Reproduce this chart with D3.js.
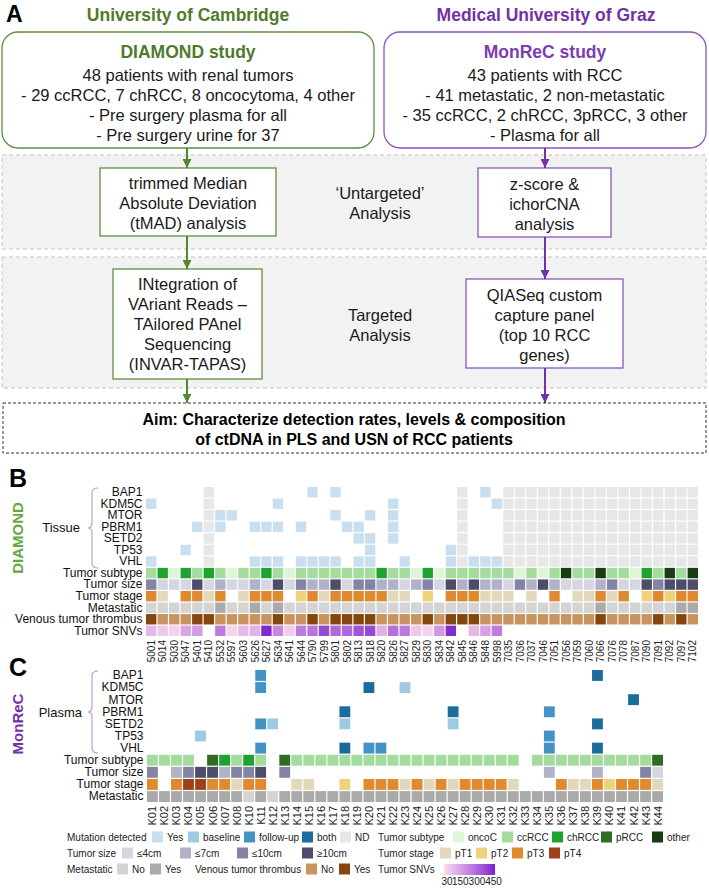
<!DOCTYPE html>
<html>
<head>
<meta charset="utf-8">
<script src="https://cdn.jsdelivr.net/npm/d3@7"></script>
<style>
  body { margin: 0; background: #fff; }
  svg text { font-family: 'Liberation Sans', Arial, sans-serif; }
</style>
</head>
<body>
<div id="chart"></div>
<script>
// ---------- data ----------
var diamondIds = ["5001","5014","5030","5047","5401","5410","5532","5597","5603","5626","5627","5634","5641","5644","5790","5799","5801","5802","5813","5818","5820","5826","5827","5829","5830","5834","5842","5845","5846","5848","5998","7035","7036","7037","7046","7051","7056","7059","7060","7066","7076","7078","7087","7090","7091","7092","7097","7102"];

var genes = ["BAP1","KDM5C","MTOR","PBRM1","SETD2","TP53","VHL"];

// tissue mutations (DIAMOND): sample ids with a mutation detected
var tissueBAP1 = ["5790","5801","5848"];
var tissueKDM5C = ["5001","5634","5826","5998"];
var tissueMTOR = ["5532","5597","5801","5818","5826"];
var tissuePBRM1 = ["5401","5532","5626","5627","5634","5644","5802","5813","5826"];
var tissueSETD2 = ["5813","5818","5826"];
var tissueTP53 = ["5047","5818","5842"];
var tissueVHL = ["5001","5626","5627","5634","5644","5790","5799","5801","5813","5818","5827","5842","5846","5848","5998"];
var tissueND = ["5410","5845","7035","7036","7037","7046","7051","7056","7059","7060","7066","7076","7078","7087","7090","7091","7092","7097","7102"];

var diamondSubtype = ["cc","ch","on","ch","cc","ch","cc","on","cc","cc","ch","cc","on","cc","cc","cc","cc","cc","cc","cc","ch","cc","cc","on","ch","on","cc","cc","cc","cc","cc","cc","on","cc","on","cc","ot","cc","cc","ot","cc","cc","on","ch","cc","ot","cc","ot"];
var diamondSize = [3,1,1,1,4,1,2,1,1,2, 1,4,1,3,2,2,4,1,3,3, 2,2,1,2,3,1,4,2,4,2, 2,1,3,2,4,2,1,1,1,2, 3,1,1,4,3,4,4,4];
var diamondStage = [3,1,0,3,3,1,3,0,1,3, 3,3,0,2,3,1,3,3,3,3, 3,1,1,0,2,0,3,3,3,1, 1,1,0,1,0,3,0,1,1,3, 1,3,0,2,3,2,3,3];
var diamondMet = ["N","N","N","N","N","N","Y","N","N","Y", "N","Y","N","N","N","N","N","N","N","N", "N","N","N","N","N","N","N","N","N","N", "N","N","N","N","N","N","N","N","N","Y", "N","N","N","N","N","N","Y","Y"];
var diamondVenous = ["Y","N","N","N","Y","Y","N","N","N","N", "N","Y","N","N","Y","N","Y","Y","Y","Y", "N","N","N","N","Y","N","Y","Y","Y","N", "N","N","N","N","N","N","N","N","N","Y", "N","N","N","N","Y","N","Y","N"];
var diamondSNV = [100,60,30,150,170,null,250,30,90,110, 450,220,50,250,270,380,300,300,350,380, 120,280,260,60,30,180,440,null,100,160, 250,null,null,null,null,null,null,null,null,null, null,null,null,null,null,null,null,null];

var monrecIds = ["K01","K02","K03","K04","K05","K06","K07","K08","K10","K11","K12","K13","K14","K15","K16","K17","K18","K19","K20","K21","K22","K23","K24","K25","K26","K27","K28","K29","K30","K31","K32","K33","K34","K35","K36","K37","K38","K39","K40","K41","K42","K43","K44"];

// plasma mutations (MonReC): b = baseline, f = follow-up, B = both
var plasmaBAP1 = [["K11","f"],["K39","B"]];
var plasmaKDM5C = [["K11","f"],["K20","B"],["K23","b"]];
var plasmaMTOR = [["K42","B"]];
var plasmaPBRM1 = [["K18","B"],["K27","B"],["K35","f"]];
var plasmaSETD2 = [["K11","f"],["K12","b"],["K18","b"],["K27","b"],["K39","B"]];
var plasmaTP53 = [["K05","b"],["K35","f"]];
var plasmaVHL = [["K11","f"],["K18","B"],["K20","f"],["K21","f"],["K35","f"],["K39","B"]];

var monrecSubtype = ["cc","cc","cc","cc","","pR","ch","cc","ch","cc","","pR","cc","cc","cc","cc","cc","cc","cc","cc","cc","cc","cc","cc","cc","cc","cc","cc","cc","cc","cc","","cc","cc","cc","cc","cc","cc","cc","cc","cc","cc","pR"];
var monrecSize = [3,0,2,3,4,4,2,3,3,4, 0,3,0,0,0,0,0,0,0,0, 0,0,0,0,0,0,0,0,0,0, 0,0,0,2,0,0,0,2,0,0, 0,3,1];
var monrecStage = [3,0,3,4,4,3,3,1,3,3, 0,0,1,1,0,0,2,0,3,3, 3,1,3,1,3,1,3,3,3,3, 1,0,0,0,3,1,1,3,2,3, 3,3,1];
var monrecMet = ["Y","Y","Y","Y","Y","Y","Y","Y","N","Y","N","Y","Y","Y","Y","Y","Y","Y","Y","Y","Y","Y","Y","Y","Y","Y","Y","Y","Y","Y","Y","Y","Y","Y","Y","Y","Y","Y","Y","Y","Y","Y","Y"];

var snvTicks = [30, 150, 300, 450];

// ---------- colours ----------
var mutColor = {Y: "#c9dff0", b: "#9ecae2", f: "#4393c7", B: "#1b6b9c", ND: "#e7e7e7"};
var subtypeColor = d3.scaleOrdinal().domain(["on","cc","ch","pR","ot"])
  .range(["#ddf6d6","#a3dc9c","#1fa32f","#2f6e22","#1a3c15"]);
var sizeColor = d3.scaleOrdinal().domain([1,2,3,4]).range(["#d6d6e2","#b1b1c9","#8383a6","#4d4d6a"]);
var stageColor = d3.scaleOrdinal().domain([1,2,3,4]).range(["#e2d9bd","#f0d27c","#e08a30","#a0401b"]);
var metColor = d3.scaleOrdinal().domain(["N","Y"]).range(["#d4d4d4","#aaaaaa"]);
var venColor = d3.scaleOrdinal().domain(["N","Y"]).range(["#c99460","#85460d"]);
var snvColor = d3.scaleSequential(d3.interpolateLab("#fcdcee", "#7a1fce")).domain([7, 468]);

var green = "#55852f", purple = "#7232a6";

var svg = d3.select("#chart").append("svg")
  .attr("width", 709)
  .attr("height", 889);

svg.append("rect").attr("width", 709).attr("height", 889).attr("fill", "#fff");

// arrow markers
var defs = svg.append("defs");
[["arrG", green], ["arrP", purple]].forEach(function(m) {
  defs.append("marker")
    .attr("id", m[0])
    .attr("markerUnits", "userSpaceOnUse")
    .attr("viewBox", "0 0 10 10")
    .attr("refX", 10).attr("refY", 5)
    .attr("markerWidth", 9).attr("markerHeight", 9)
    .attr("orient", "auto")
    .append("path").attr("d", "M0,0 L10,5 L0,10 z").attr("fill", m[1]);
});

// ---------- panel A ----------
function addText(x, y, txt, size, color, weight, anchor) {
  return svg.append("text")
    .attr("x", x).attr("y", y)
    .attr("dy", "0.35em")
    .attr("text-anchor", anchor || "middle")
    .attr("font-size", size)
    .attr("font-weight", weight || "normal")
    .attr("fill", color)
    .text(txt);
}
function addLines(cx, y0, arr, size, color) {
  arr.forEach(function(t, i) { addText(cx, y0 + i * 20, t, size, color); });
}
function addBox(x, y, w, h, color, rx) {
  svg.append("rect").attr("x", x).attr("y", y).attr("width", w).attr("height", h)
    .attr("rx", rx || 0).attr("fill", "#fff").attr("stroke", color).attr("stroke-width", 1.3);
}
function arrow(x, y0, y1, id, color) {
  svg.append("line").attr("x1", x).attr("x2", x).attr("y1", y0).attr("y2", y1)
    .attr("stroke", color).attr("stroke-width", 2).attr("marker-end", "url(#" + id + ")");
}

addText(6, 14, "A", 23, "#000", "bold", "start");
addText(188, 15, "University of Cambridge", 17.5, "#4f7a2b", "bold");
addText(546, 15, "Medical University of Graz", 17.5, purple, "bold");

// gray analysis bands
svg.append("rect").attr("x", 2).attr("y", 155).attr("width", 704).attr("height", 94)
  .attr("fill", "#f2f2f2").attr("stroke", "#c4c4c4").attr("stroke-dasharray", "4,3");
svg.append("rect").attr("x", 2).attr("y", 257).attr("width", 704).attr("height", 131)
  .attr("fill", "#f2f2f2").attr("stroke", "#c4c4c4").attr("stroke-dasharray", "4,3");

addBox(2, 32, 372, 116, "#5f8f3e", 16);
addBox(384, 32, 322, 116, "#8a56bf", 16);
addText(188, 52, "DIAMOND study", 17.5, "#4f7a2b", "bold");
addLines(188, 75, ["48 patients with renal tumors", "- 29 ccRCC, 7 chRCC, 8 oncocytoma, 4 other",
  "- Pre surgery plasma for all", "- Pre surgery urine for 37"], 16.5, "#1a1a1a");
addText(545, 52, "MonReC study", 17.5, "#7a3db3", "bold");
addLines(545, 75, ["43 patients with RCC", "- 41 metastatic, 2 non-metastatic",
  "- 35 ccRCC, 2 chRCC, 3pRCC, 3 other", "- Plasma for all"], 16.5, "#1a1a1a");

addBox(100, 168, 176, 68, "#5f8f3e");
addLines(188, 183, ["trimmed Median", "Absolute Deviation", "(tMAD) analysis"], 16.5, "#1a1a1a");
addBox(478, 168, 133, 69, "#8a56bf");
addLines(544.5, 184, ["z-score &", "ichorCNA", "analysis"], 16.5, "#1a1a1a");
addLines(380, 193, ["\u2018Untargeted\u2019", "Analysis"], 16.5, "#1a1a1a");

addBox(113, 269, 149, 110, "#5f8f3e");
addLines(187.5, 284, ["INtegration of", "VAriant Reads \u2013", "TAilored PAnel", "Sequencing", "(INVAR-TAPAS)"], 16.5, "#1a1a1a");
addBox(466, 279, 157, 89, "#8a56bf");
addLines(544.5, 295, ["QIASeq custom", "capture panel", "(top 10 RCC", "genes)"], 16.5, "#1a1a1a");
addLines(380, 315, ["Targeted", "Analysis"], 16.5, "#1a1a1a");

arrow(187, 148, 168, "arrG", "#4e8a2c");
arrow(187, 236, 269, "arrG", "#4e8a2c");
arrow(187, 379, 403, "arrG", "#4e8a2c");
arrow(545, 148, 168, "arrP", purple);
arrow(545, 237, 279, "arrP", purple);
arrow(545, 368, 403, "arrP", purple);

svg.append("rect").attr("x", 3).attr("y", 403).attr("width", 703).attr("height", 50)
  .attr("fill", "#fff").attr("stroke", "#333").attr("stroke-dasharray", "3,2");
addText(354, 419, "Aim: Characterize detection rates, levels & composition", 16, "#000", "bold");
addText(354, 439, "of ctDNA in PLS and USN of RCC patients", 16, "#000", "bold");

// ---------- heatmaps ----------
function brace(x, y0, y1, color) {
  var ym = (y0 + y1) / 2, xm = x - 6, xt = x - 10, r = 5;
  var d = "M" + x + "," + y0 +
    " Q" + xm + "," + y0 + " " + xm + "," + (y0 + r) +
    " L" + xm + "," + (ym - r) +
    " Q" + xm + "," + ym + " " + xt + "," + ym +
    " Q" + xm + "," + ym + " " + xm + "," + (ym + r) +
    " L" + xm + "," + (y1 - r) +
    " Q" + xm + "," + y1 + " " + x + "," + y1;
  svg.append("path").attr("d", d).attr("fill", "none").attr("stroke", color).attr("stroke-width", 1.1);
}

function heatmap(ids, rows, cells, x0, x1, y0, y1, labelSize) {
  var x = d3.scaleBand().domain(ids).range([x0, x1]).paddingInner(0.1);
  var y = d3.scaleBand().domain(rows).range([y0, y1]).paddingInner(0.1);
  var g = svg.append("g");
  g.selectAll("rect.cell")
    .data(cells)
    .enter()
    .append("rect")
    .attr("class", "cell")
    .attr("x", d => x(d.id))
    .attr("y", d => y(d.row))
    .attr("width", x.bandwidth())
    .attr("height", y.bandwidth())
    .attr("fill", d => d.color);

  var left = g.append("g")
    .attr("transform", `translate(${x0 - 0.5}, 0)`)
    .call(d3.axisLeft(y).tickSize(0).tickPadding(3));
  left.select(".domain").remove();
  left.selectAll("text").attr("font-size", 12).attr("fill", "#111")
    .style("font-family", "'Liberation Sans', Arial, sans-serif");

  var bottom = g.append("g")
    .attr("transform", `translate(0, ${y1})`)
    .call(d3.axisBottom(x).tickSize(0));
  bottom.select(".domain").remove();
  bottom.selectAll("text")
    .attr("transform", "rotate(-90)")
    .attr("x", -4).attr("y", 0).attr("dy", "0.36em")
    .style("text-anchor", "end")
    .attr("font-size", labelSize).attr("fill", "#222")
    .style("font-family", "'Liberation Sans', Arial, sans-serif");
  return {x: x, y: y};
}

// panel B cells
var rowsB = genes.concat(["Tumor subtype","Tumor size","Tumor stage","Metastatic","Venous tumor thrombus","Tumor SNVs"]);
var tissueLists = [tissueBAP1, tissueKDM5C, tissueMTOR, tissuePBRM1, tissueSETD2, tissueTP53, tissueVHL];
var cellsB = [];
genes.forEach(function(gname, gi) {
  diamondIds.forEach(function(id) {
    if (tissueND.indexOf(id) >= 0) cellsB.push({id: id, row: gname, color: mutColor.ND});
    else if (tissueLists[gi].indexOf(id) >= 0) cellsB.push({id: id, row: gname, color: mutColor.Y});
  });
});
diamondIds.forEach(function(id, i) {
  if (diamondSubtype[i]) cellsB.push({id: id, row: "Tumor subtype", color: subtypeColor(diamondSubtype[i])});
  if (diamondSize[i]) cellsB.push({id: id, row: "Tumor size", color: sizeColor(diamondSize[i])});
  if (diamondStage[i]) cellsB.push({id: id, row: "Tumor stage", color: stageColor(diamondStage[i])});
  cellsB.push({id: id, row: "Metastatic", color: metColor(diamondMet[i])});
  cellsB.push({id: id, row: "Venous tumor thrombus", color: venColor(diamondVenous[i])});
  if (diamondSNV[i] != null) cellsB.push({id: id, row: "Tumor SNVs", color: snvColor(diamondSNV[i])});
});
heatmap(diamondIds, rowsB, cellsB, 146, 698, 487, 636, 10);

// panel C cells
var rowsC = genes.concat(["Tumor subtype","Tumor size","Tumor stage","Metastatic"]);
var plasmaLists = [plasmaBAP1, plasmaKDM5C, plasmaMTOR, plasmaPBRM1, plasmaSETD2, plasmaTP53, plasmaVHL];
var cellsC = [];
genes.forEach(function(gname, gi) {
  plasmaLists[gi].forEach(function(p) {
    cellsC.push({id: p[0], row: gname, color: mutColor[p[1]]});
  });
});
monrecIds.forEach(function(id, i) {
  if (monrecSubtype[i]) cellsC.push({id: id, row: "Tumor subtype", color: subtypeColor(monrecSubtype[i])});
  if (monrecSize[i]) cellsC.push({id: id, row: "Tumor size", color: sizeColor(monrecSize[i])});
  if (monrecStage[i]) cellsC.push({id: id, row: "Tumor stage", color: stageColor(monrecStage[i])});
  cellsC.push({id: id, row: "Metastatic", color: metColor(monrecMet[i])});
});
heatmap(monrecIds, rowsC, cellsC, 147, 663, 670, 802, 11);

// side labels and braces
addText(9, 478, "B", 25, "#000", "bold", "start");
addText(9, 667, "C", 25, "#000", "bold", "start");
svg.append("text").attr("transform", "translate(18,538) rotate(-90)").attr("dy", "0.35em")
  .attr("text-anchor", "middle").attr("font-size", 15).attr("font-weight", "bold")
  .attr("fill", "#67a83f").text("DIAMOND");
svg.append("text").attr("transform", "translate(18,724) rotate(-90)").attr("dy", "0.35em")
  .attr("text-anchor", "middle").attr("font-size", 15).attr("font-weight", "bold")
  .attr("fill", purple).text("MonReC");
addText(80, 527, "Tissue", 13, "#111", "normal", "end");
addText(82, 712, "Plasma", 13, "#111", "normal", "end");
brace(98, 488, 568, "#a8a8a8");
brace(98, 671, 753, "#b792d6");

// ---------- legend ----------
var legFont = 10;
function swatch(x, yc, color) {
  svg.append("rect").attr("x", x).attr("y", yc - 5.5).attr("width", 11).attr("height", 11).attr("fill", color);
}
function legItems(yc, title, tx, items) {
  addText(tx, yc, title, legFont, "#222", "normal", "start");
  items.forEach(function(it) {
    swatch(it[0], yc, it[2]);
    addText(it[0] + 15, yc, it[1], legFont, "#222", "normal", "start");
  });
}
var mutLabels = ["Yes","baseline","follow-up","both","ND"];
var mutKeys = ["Y","b","f","B","ND"];
var subtypeLabels = ["oncoC","ccRCC","chRCC","pRCC","other"];
var sizeLabels = ["\u22644cm","\u22647cm","\u226410cm","\u226510cm"];
var stageLabels = ["pT1","pT2","pT3","pT4"];

legItems(837, "Mutation detected", 67, mutLabels.map((l, i) => [[152,188,244,302,340][i], l, mutColor[mutKeys[i]]]));
legItems(837, "Tumor subtype", 378, subtypeLabels.map((l, i) => [[453,502,552,601,652][i], l, subtypeColor.range()[i]]));
legItems(853, "Tumor size", 67, sizeLabels.map((l, i) => [[122,180,237,302][i], l, sizeColor(i + 1)]));
legItems(853, "Tumor stage", 378, stageLabels.map((l, i) => [[440,476,512,549][i], l, stageColor(i + 1)]));
legItems(869, "Metastatic", 67, [[117, "No", metColor("N")], [150, "Yes", metColor("Y")]]);
legItems(869, "Venous tumor thrombus", 195, [[306, "No", venColor("N")], [339, "Yes", venColor("Y")]]);
addText(378, 869, "Tumor SNVs", legFont, "#222", "normal", "start");

var snvX = d3.scaleLinear().domain(snvColor.domain()).range([444, 495]);
var grad = defs.append("linearGradient").attr("id", "snvGrad");
d3.range(0, 1.01, 0.1).forEach(function(t) {
  var v = snvColor.domain()[0] + t * (snvColor.domain()[1] - snvColor.domain()[0]);
  grad.append("stop").attr("offset", t).attr("stop-color", snvColor(v));
});
svg.append("rect").attr("x", 444).attr("y", 864).attr("width", 51).attr("height", 11).attr("fill", "url(#snvGrad)");
var snvAxis = svg.append("g").attr("transform", "translate(0,875)")
  .call(d3.axisBottom(snvX).tickValues(snvTicks).tickSize(0).tickPadding(3));
snvAxis.select(".domain").remove();
snvAxis.selectAll("text").attr("font-size", legFont).attr("fill", "#222")
  .style("font-family", "'Liberation Sans', Arial, sans-serif");
</script>
</body>
</html>
